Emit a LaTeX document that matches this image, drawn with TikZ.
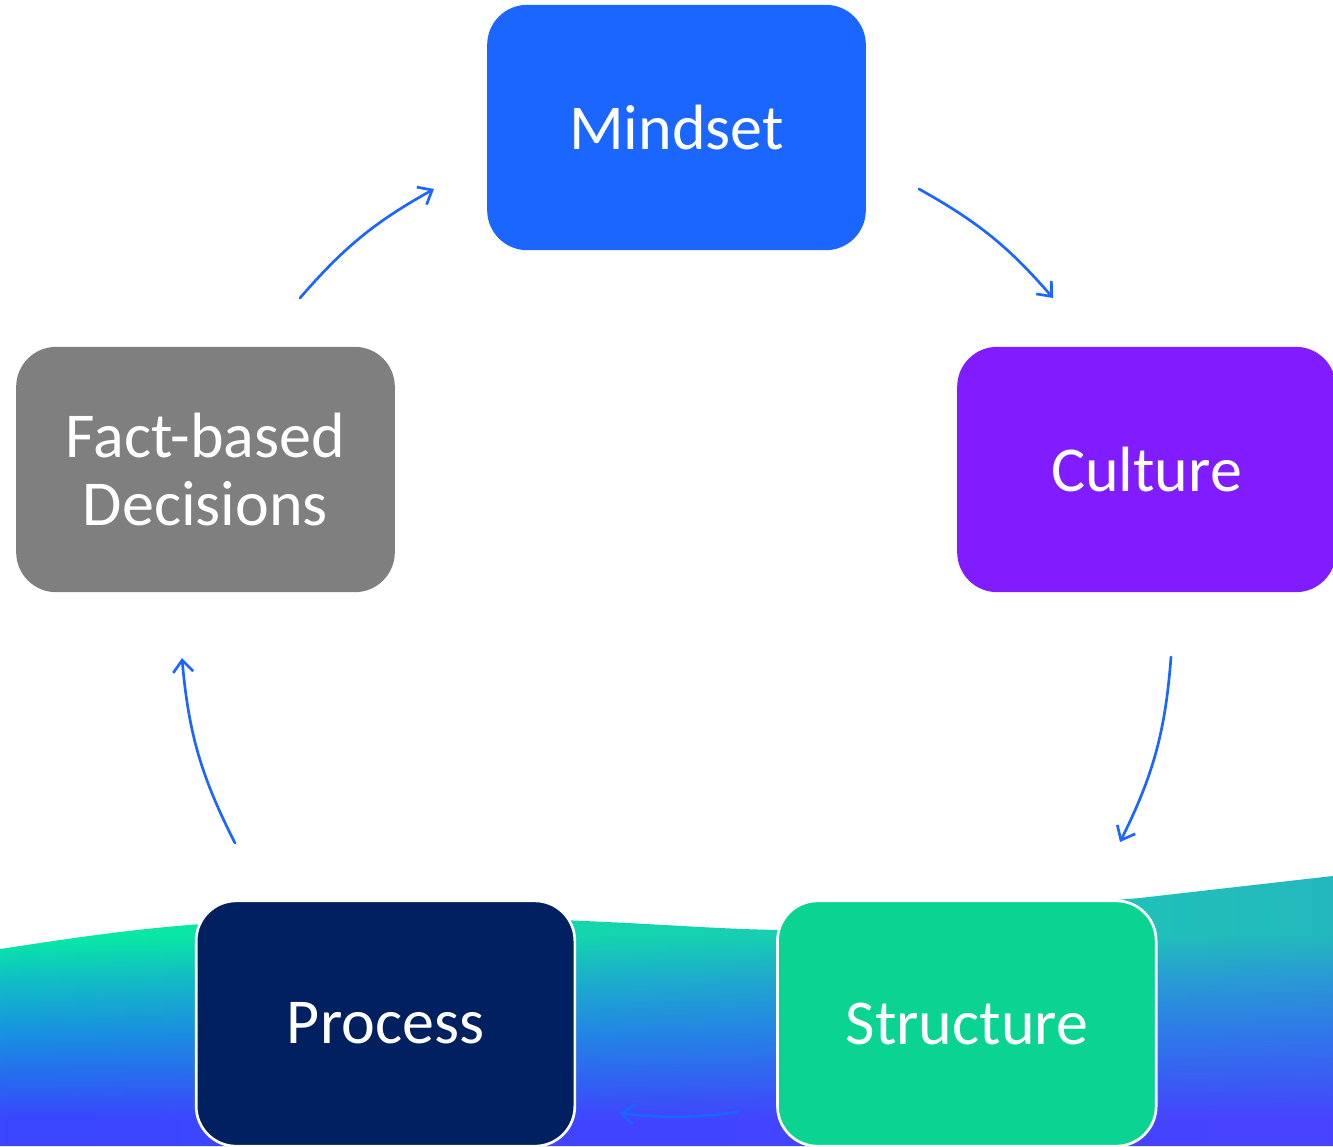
\documentclass[tikz,border=0pt]{standalone}
\usepackage{fontspec}
\setmainfont{Carlito}
\usepackage{tikz}
\usetikzlibrary{arrows.meta,positioning,fadings}
\definecolor{mindblue}{HTML}{1A66FF}
\definecolor{cultviolet}{HTML}{801CFF}
\definecolor{factgray}{HTML}{7F7F7F}
\definecolor{procnavy}{HTML}{002060}
\definecolor{strucgreen}{HTML}{0BD493}
% colours of the wave at the bottom, from low to high
\definecolor{waveD}{HTML}{3A46FF}
\definecolor{waveC}{HTML}{2868F0}
\definecolor{waveB}{HTML}{1892E0}
\definecolor{waveA}{HTML}{10C0C4}
\definecolor{waveTop}{HTML}{06EEA2}
\definecolor{wavetint}{HTML}{6A3CFF}
\pgfdeclareverticalshading{wave}{100bp}{color(0bp)=(waveD); color(25bp)=(waveD);
  color(30bp)=(waveD); color(37bp)=(waveC); color(46bp)=(waveB); color(56bp)=(waveA);
  color(64bp)=(waveTop); color(75bp)=(waveTop); color(100bp)=(waveTop)}
\tikzfading[name=tintright, left color=transparent!100, right color=transparent!0]

\begin{document}
\begin{tikzpicture}[x=0.75pt,y=-0.75pt,% work in pixels, y pointing down
			every node/.style={
				align=center,		% so that "\\" breaks the line
				text=white,
				font=\fontsize{48}{51}\selectfont
			},
			box/.style={rectangle,rounded corners=30pt,inner sep=0pt,
				minimum width=284pt,minimum height=184pt},
			framed/.style={box,draw=white,line width=2pt},
			every edge/.style={draw=mindblue,line width=2pt,line cap=round}
		]
		\clip (0,0) rectangle (1333,1146);
		% wave behind the two lower boxes
		\begin{scope}
			\clip (0,949) .. controls (100,934) and (200,917) .. (400,917)
				.. controls (600,917) and (700,930) .. (790,930)
				.. controls (900,930) and (1050,905) .. (1140,898)
				-- (1333,876) -- (1333,1146) -- (0,1146) -- cycle;
			\shade[shading=wave] (0,876) rectangle (1333,1146);
			\fill[wavetint,path fading=tintright,fill opacity=.3] (0,876) rectangle (1333,1146);
		\end{scope}
		\node[box,fill=mindblue](Mind) at (676.5,127.5){Mindset};
		\node[box,fill=cultviolet](Cult) at (1146.5,469.5){Culture};
		\node[box,fill=factgray](Fact) at (205.5,469.5){Fact-based\\Decisions};
		\node[framed,fill=procnavy](Proc) at (385.5,1023.5){Process};
		\node[framed,fill=strucgreen](Struc)[right=150pt of Proc]{Structure};
		% ends of the arrows, on a ring round the boxes
		\coordinate (fm1) at (300,298);  \coordinate (fm2) at (434,189);
		\coordinate (mc1) at (919,189);  \coordinate (mc2) at (1053,298);
		\coordinate (cs1) at (1171,657); \coordinate (cs2) at (1120,842);
		\coordinate (sp1) at (738,1112); \coordinate (sp2) at (620,1113);
		\coordinate (pf1) at (235,843);  \coordinate (pf2) at (182,658);
		\path[-{Straight Barb[length=9pt,width=15pt]}]
		(fm1)edge [bend left=10] (fm2)
		(mc1)edge [bend left=10] (mc2)
		(cs1)edge [bend left=11] (cs2)
		(sp1)edge [bend left=7]  (sp2)
		(pf1)edge [bend left=11] (pf2)
		;
	\end{tikzpicture}
\end{document}
